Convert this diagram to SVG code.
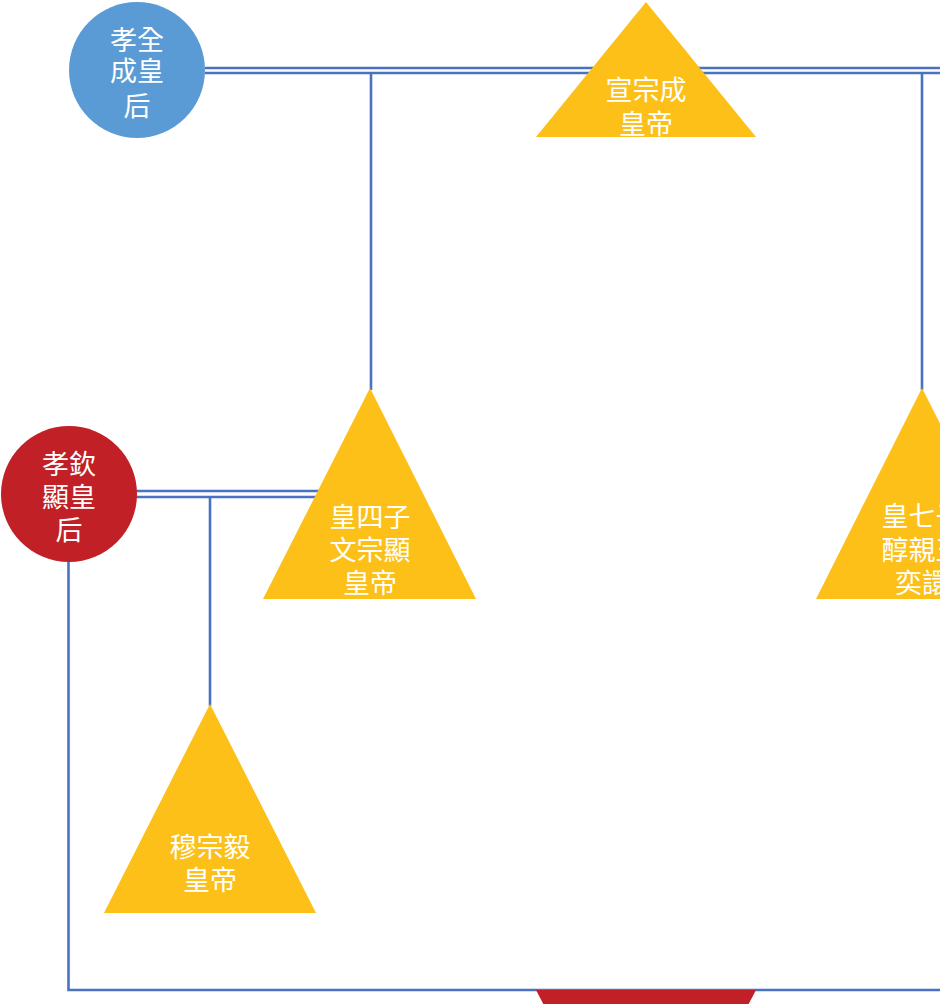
<svg xmlns="http://www.w3.org/2000/svg" width="940" height="1004" viewBox="0 0 940 1004">
<style>
.ln{stroke:#4a72c0;stroke-width:2.6;fill:none}
.f{fill:#e8f0ff}
.blue{fill:#5b9bd5}
.red{fill:#c02026}
.gold{fill:#fcc018}
.t{font-family:"Noto Sans CJK TC","Noto Sans CJK SC",sans-serif;font-size:27px;fill:#ffffff;text-anchor:middle}
</style>
<rect width="940" height="1004" fill="#ffffff"/>
<g id="connectors">
<line class="ln" x1="205" y1="68" x2="940" y2="68"/>
<line class="ln" x1="205" y1="73" x2="940" y2="73"/>
<line class="ln" x1="371" y1="73" x2="371" y2="390"/>
<line class="ln" x1="922" y1="73" x2="922" y2="390"/>
<line class="ln" x1="136" y1="491" x2="320" y2="491"/>
<line class="ln" x1="136" y1="497" x2="320" y2="497"/>
<line class="ln" x1="210" y1="497" x2="210" y2="706"/>
<polyline class="ln" points="68.5,560 68.5,990 940,990"/>
</g>
<g id="n1"><circle class="blue" cx="137" cy="70" r="68"/>
<text class="t" x="137" y="50">孝全</text><text class="t" x="137" y="81">成皇</text><text class="t" x="137" y="116">后</text></g>
<g id="n2"><polygon class="gold" points="646,2 756,137 536,137"/>
<text class="t" x="646" y="100">宣宗成</text><text class="t" x="646" y="134">皇帝</text></g>
<g id="n3"><polygon class="gold" points="370,388 476,599 263,599"/>
<text class="t" x="370" y="527">皇四子</text><text class="t" x="370" y="560">文宗顯</text><text class="t" x="370" y="593">皇帝</text></g>
<g id="n4"><polygon class="gold" points="922,388 1029,599 816,599"/>
<text class="t" x="922" y="526">皇七子</text><text class="t" x="922" y="560">醇親王</text><text class="t" x="922" y="593">奕譞</text></g>
<g id="n5"><circle class="red" cx="69" cy="494" r="68"/>
<text class="t" x="69" y="474">孝欽</text><text class="t" x="69" y="507">顯皇</text><text class="t" x="69" y="540">后</text></g>
<g id="n6"><polygon class="gold" points="210,704 316,913 104,913"/>
<text class="t" x="210" y="857">穆宗毅</text><text class="t" x="210" y="890">皇帝</text></g>
<g id="n7"><polygon class="red" points="536,990 756,990 646,1201"/></g>
</svg>
